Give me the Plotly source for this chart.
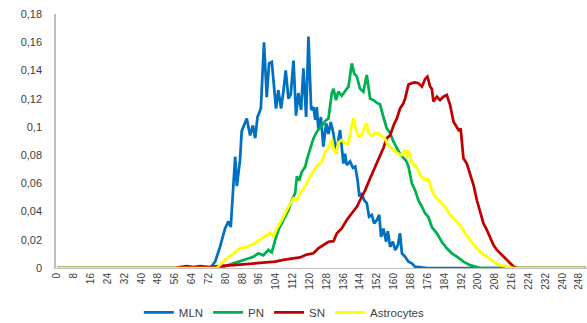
import plotly.graph_objects as go

# ---- data ----
mln_x = [0, 72.7, 75.1, 77.4, 79.8, 81.4, 82.5, 83.8, 84.6, 85.4, 86.9, 87.7, 90.1, 91.7, 93.0, 94.1, 95.2, 96.8,
         98.3, 99.6, 100.7, 102.0, 103.1, 104.0, 105.1, 106.4, 107.5, 108.6, 109.9, 111.0, 112.3, 113.5, 114.6,
         115.9, 117.0, 118.3, 119.4, 120.7, 121.8, 122.6, 123.4, 124.1, 125.3, 126.5, 127.8, 128.9, 130.0, 131.3,
         132.5, 133.6, 134.4, 135.2, 136.0, 136.8, 137.6, 139.2, 140.5, 141.6, 142.7, 143.6, 144.7, 145.8, 147.1,
         148.2, 149.5, 150.6, 151.9, 153.0, 153.9, 155.0, 156.3, 157.1, 158.2, 159.5, 160.6, 161.9, 162.9, 163.8,
         165.3, 166.9, 168.5, 170.0, 172.4, 175.8, 251]
mln_y = [0, 0, 0.0045, 0.015, 0.028, 0.033, 0.029, 0.065, 0.079, 0.058, 0.0765, 0.097, 0.106, 0.094, 0.101, 0.092,
         0.107, 0.113, 0.160, 0.121, 0.145, 0.146, 0.128, 0.113, 0.126, 0.113, 0.125, 0.140, 0.120, 0.123, 0.147,
         0.108, 0.124, 0.112, 0.1415, 0.107, 0.164, 0.112, 0.114, 0.105, 0.114, 0.098, 0.107, 0.086, 0.1025, 0.095,
         0.1035, 0.095, 0.081, 0.092, 0.0978, 0.086, 0.074, 0.081, 0.073, 0.0755, 0.071, 0.072, 0.0626, 0.0506,
         0.053, 0.0482, 0.046, 0.0364, 0.0376, 0.0317, 0.034, 0.0376, 0.022, 0.028, 0.0187, 0.026, 0.015, 0.0187,
         0.0127, 0.0163, 0.0246, 0.0104, 0.008, 0.0045, 0.0033, 0.001, 0.0005, 0, 0]

pn_x = [0, 77.4, 83.8, 88.5, 93.3, 95.6, 98.0, 100.4, 102.0, 103.6, 105.1, 106.7, 108.3, 109.9, 111.5, 113.1, 113.9,
        115.0, 116.2, 117.8, 118.9, 120.2, 121.8, 123.4, 124.9, 125.9, 127.3, 128.9, 130.5, 131.3, 132.5, 133.6,
        135.2, 136.8, 138.4, 140.0, 141.1, 142.4, 143.9, 145.5, 147.1, 148.7, 150.3, 151.9, 153.4, 155.0, 156.6,
        158.2, 159.8, 161.4, 162.9, 164.5, 165.8, 166.9, 168.5, 170.1, 171.6, 173.3, 174.8, 176.4, 178.0, 180.4,
        182.7, 185.1, 187.5, 189.9, 193.0, 196.2, 199.4, 201.0, 251]
pn_y = [0, 0, 0.0033, 0.0057, 0.008, 0.0104, 0.009, 0.0128, 0.011, 0.0198, 0.027, 0.0317, 0.036, 0.041, 0.048,
        0.053, 0.065, 0.062, 0.068, 0.0715, 0.078, 0.0836, 0.092, 0.0966, 0.099, 0.101, 0.104, 0.106, 0.124, 0.127,
        0.119, 0.125, 0.122, 0.125, 0.1285, 0.145, 0.138, 0.1356, 0.127, 0.125, 0.1368, 0.120, 0.119, 0.117, 0.116,
        0.107, 0.099, 0.0955, 0.0895, 0.085, 0.081, 0.078, 0.076, 0.072, 0.060, 0.055, 0.048, 0.0434, 0.0388, 0.036,
        0.029, 0.0246, 0.0186, 0.014, 0.0104, 0.008, 0.0045, 0.002, 0.0005, 0, 0]

sn_x = [0, 56.0, 58.4, 61.6, 64.6, 67.9, 72.7, 77.4, 83.8, 88.5, 93.3, 99.6, 103.6, 107.5, 112.3, 115.4, 118.6,
        121.8, 124.1, 126.5, 128.9, 131.3, 132.9, 135.2, 137.6, 140.0, 142.4, 143.9, 146.3, 148.7, 151.1, 153.4,
        155.0, 156.6, 158.2, 159.8, 161.4, 162.9, 164.5, 165.3, 166.9, 168.5, 170.1, 171.6, 173.3, 174.8, 175.9,
        177.2, 178.0, 178.8, 180.4, 181.9, 183.5, 185.1, 186.7, 188.3, 189.9, 191.0, 191.7, 192.2, 193.0, 194.6,
        196.2, 197.8, 199.4, 200.9, 202.5, 204.1, 205.7, 207.3, 208.9, 210.5, 212.1, 213.6, 215.2, 216.8, 218.5, 251]
sn_y = [0, 0, 0.0007, 0.0014, 0.0007, 0.0014, 0.0007, 0.0015, 0.002, 0.0025, 0.003, 0.0038, 0.0045, 0.0057, 0.0065,
        0.0075, 0.0095, 0.0104, 0.014, 0.0163, 0.0186, 0.019, 0.0246, 0.028, 0.034, 0.0388, 0.0434, 0.048, 0.055,
        0.0636, 0.0718, 0.079, 0.085, 0.092, 0.094, 0.101, 0.106, 0.113, 0.1167, 0.120, 0.130, 0.131, 0.1315, 0.131,
        0.1285, 0.134, 0.1356, 0.1285, 0.127, 0.118, 0.1214, 0.119, 0.1214, 0.1226, 0.1155, 0.1037, 0.100, 0.097,
        0.099, 0.092, 0.0777, 0.074, 0.067, 0.0588, 0.048, 0.040, 0.0317, 0.027, 0.022, 0.0163, 0.0128, 0.0104,
        0.008, 0.0057, 0.0028, 0.001, 0, 0]

ast_x = [0, 75.9, 80.6, 83.8, 86.9, 90.1, 92.5, 94.9, 97.2, 99.6, 101.2, 102.8, 104.4, 106.7, 108.3, 109.9, 112.3,
         113.9, 115.4, 117.0, 118.6, 120.2, 122.6, 124.1, 125.7, 127.3, 128.9, 130.5, 131.3, 132.5, 133.6, 135.2,
         136.8, 138.4, 139.5, 140.8, 142.0, 143.1, 144.7, 146.3, 147.1, 147.9, 149.5, 151.1, 152.6, 154.2, 155.8,
         157.4, 159.0, 161.4, 163.7, 165.3, 166.1, 166.9, 168.5, 170.9, 172.4, 174.8, 176.4, 178.0, 179.6, 181.9,
         184.3, 186.7, 189.1, 191.4, 193.8, 196.2, 198.6, 200.9, 204.1, 207.3, 210.5, 213.6, 216.8, 251]
ast_y = [0, 0, 0.0069, 0.0104, 0.014, 0.015, 0.0165, 0.0186, 0.021, 0.0234, 0.025, 0.0225, 0.028, 0.034, 0.0388,
         0.0434, 0.0494, 0.048, 0.053, 0.056, 0.060, 0.065, 0.0705, 0.0735, 0.075, 0.082, 0.085, 0.0915, 0.085,
         0.081, 0.089, 0.0907, 0.0885, 0.088, 0.098, 0.106, 0.098, 0.093, 0.094, 0.101, 0.1025, 0.0955, 0.094,
         0.0955, 0.0955, 0.0935, 0.0915, 0.0865, 0.085, 0.0815, 0.080, 0.0836, 0.078, 0.0836, 0.0745, 0.071, 0.066,
         0.0624, 0.063, 0.055, 0.0505, 0.047, 0.0434, 0.0376, 0.034, 0.0305, 0.0246, 0.0198, 0.015, 0.0115, 0.008,
         0.0045, 0.002, 0.001, 0, 0]

x_tick_vals = list(range(0, 249, 8))
x_tick_text = [str(v) for v in x_tick_vals]
y_tick_vals = [0, 0.02, 0.04, 0.06, 0.08, 0.1, 0.12, 0.14, 0.16, 0.18]
y_tick_text = ["0", "0,02", "0,04", "0,06", "0,08", "0,1", "0,12", "0,14", "0,16", "0,18"]

series = [
    ("MLN", mln_x, mln_y, "#0070C0"),
    ("PN", pn_x, pn_y, "#00B050"),
    ("SN", sn_x, sn_y, "#C00000"),
    ("Astrocytes", ast_x, ast_y, "#FFFF00"),
]

fig = go.Figure()
for name, xs, ys, col in series:
    fig.add_trace(go.Scatter(x=xs, y=ys, mode="lines", name=name,
                             line=dict(color=col, width=2.75)))

font = dict(family="Liberation Sans, Arial, sans-serif", size=10, color="#404040")

fig.update_layout(
    width=587, height=323,
    margin=dict(l=56, r=0, t=14, b=55, autoexpand=False),
    paper_bgcolor="white", plot_bgcolor="white",
    font=font,
    showlegend=True,
    legend=dict(orientation="h", x=0.43, xanchor="center", y=-0.175, yanchor="middle",
                font=dict(family="Liberation Sans, Arial, sans-serif", size=11.5, color="#404040"),
                itemwidth=30, tracegroupgap=0, bgcolor="rgba(0,0,0,0)"),
)
fig.update_xaxes(range=[-0.5, 251.7], tickmode="array", tickvals=x_tick_vals, ticktext=x_tick_text,
                 tickangle=-90, showgrid=False, zeroline=False, showline=True, linecolor="#BFBFBF",
                 linewidth=1, ticks="", tickfont=dict(size=10), automargin=False)
fig.update_yaxes(range=[0, 0.18], tickmode="array", tickvals=y_tick_vals, ticktext=y_tick_text,
                 showgrid=False, zeroline=False, showline=True, linecolor="#BFBFBF", linewidth=1.5,
                 ticks="", ticklabelstandoff=10, tickfont=dict(size=11), automargin=False)

fig.write_html("out.html")
